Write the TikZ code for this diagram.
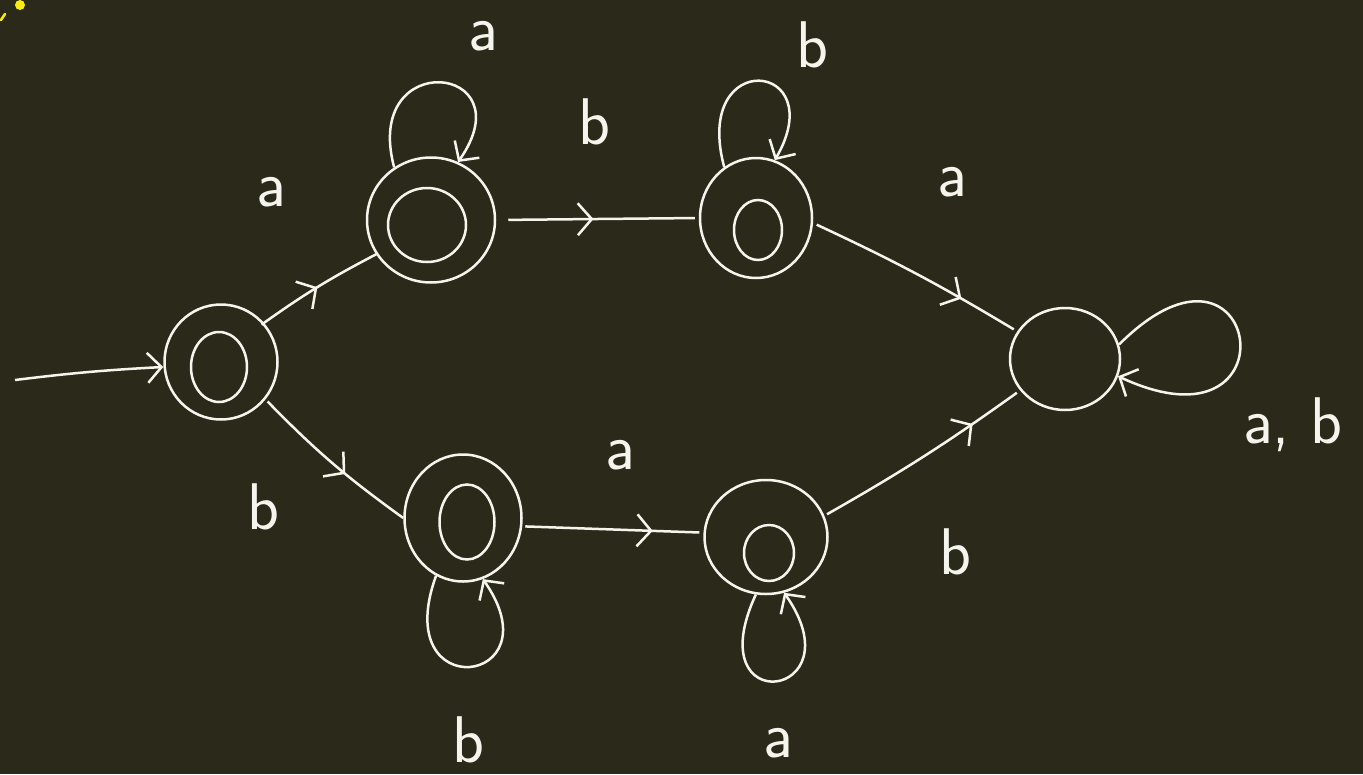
\documentclass[tikz,border=0pt]{standalone}
\usetikzlibrary{decorations.markings,arrows.meta,shapes.geometric}
\definecolor{bg}{RGB}{43,42,26}
\definecolor{ink}{RGB}{245,245,238}
\definecolor{hl}{RGB}{250,235,20}
\tikzset{
  ring/.style={draw=ink, line width=2.5pt, ellipse, inner sep=0pt},
  tr/.style={draw=ink, color=ink, line width=2.5pt, postaction={decorate},
    decoration={markings, mark=at position #1 with {\arrow[line width=2.5pt]{Straight Barb[length=14pt,width=32pt]}}}},
  tr/.default=0.55,
  loopedge/.style={draw=ink, line width=2.5pt, -{Straight Barb[length=14pt,width=30pt]}},
  lbl/.style={text=ink, inner sep=0pt, font=\sffamily\fontsize{66}{66}\selectfont}
}
\begin{document}
\begin{tikzpicture}[x=1pt,y=-1pt]
\fill[bg] (0,0) rectangle (1363,774);
\useasboundingbox (0,0) rectangle (1363,774);
% tiny yellow marks
\fill[hl] (20,5) circle (5pt);
\draw[hl, line width=2.5pt, line cap=round] (1,20) -- (5,14);
% states
\node[ring, minimum width=113pt, minimum height=115pt] (q0) at (221,362) {};
\node[ring, minimum width=56pt, minimum height=70pt] (q0i) at (219,367) {};
\node[ring, minimum width=128pt, minimum height=125pt] (q1) at (431,220) {};
\node[ring, minimum width=78pt, minimum height=74pt] (q1i) at (427,225) {};
\node[ring, minimum width=112pt, minimum height=120pt] (q2) at (756,218) {};
\node[ring, minimum width=48pt, minimum height=60pt] (q2i) at (758,230) {};
\node[ring, minimum width=110pt, minimum height=102pt] (q3) at (1065,359) {};
\node[ring, minimum width=117pt, minimum height=127pt] (q4) at (463,518) {};
\node[ring, minimum width=55pt, minimum height=75pt] (q4i) at (467,522) {};
\node[ring, minimum width=123pt, minimum height=114pt] (q5) at (766,537) {};
\node[ring, minimum width=50pt, minimum height=56pt] (q5i) at (769,553) {};
% start
\coordinate (start) at (15,380);
\draw[loopedge] (start) to[bend left=2] ([yshift=-5pt]q0.west);
% transitions
\draw[tr=0.5] ([xshift=-4pt]q0.40) to[bend left=4] (q1.212);
\draw[tr=0.48, shorten <=12pt, shorten >=4pt] (q1.east) -- (q2.west);
\draw[tr=0.72, shorten <=4pt, shorten >=4pt] (q2.-5) to[bend left=3] (q3.150);
\draw[tr=0.6, shorten <=3pt] (q0.-40) to[bend right=5] (q4.west);
\draw[tr=0.72, shorten <=3pt, shorten >=4pt] (q4.-8) -- (q5.176);
\draw[tr=0.75, shorten <=3pt, shorten >=4pt] (q5.20) to[bend right=3] (q3.-145);
% loops
\draw[loopedge] (q1.125) .. controls +(105:125pt) and +(55:120pt) .. (q1.65);
\draw[loopedge] (q2.122) .. controls +(105:125pt) and +(60:115pt) .. (q2.72);
\draw[loopedge] (q3.15) .. controls +(45:200pt) and +(-25:200pt) .. (q3.-18);
\draw[loopedge] (q4.-115) .. controls +(-110:140pt) and +(-55:130pt) .. (q4.-72);
\draw[loopedge] (q5.-100) .. controls +(-115:140pt) and +(-55:130pt) .. (q5.-72);
% labels
\node[lbl] (la1) at (271,192) {a};
\node[lbl] (lb1) at (594,122) {b};
\node[lbl] (la2) at (952,182) {a};
\node[lbl] (lb2) at (263,507) {b};
\node[lbl] (la3) at (620,455) {a};
\node[lbl] (lb3) at (955,552) {b};
\node[lbl] (la4) at (483,36) {a};
\node[lbl] (lb4) at (812,45) {b};
\node[lbl] (lab) at (1293,425) {a, b};
\node[lbl] (lb5) at (468,740) {b};
\node[lbl] (la5) at (778,743) {a};
\end{tikzpicture}
\end{document}
